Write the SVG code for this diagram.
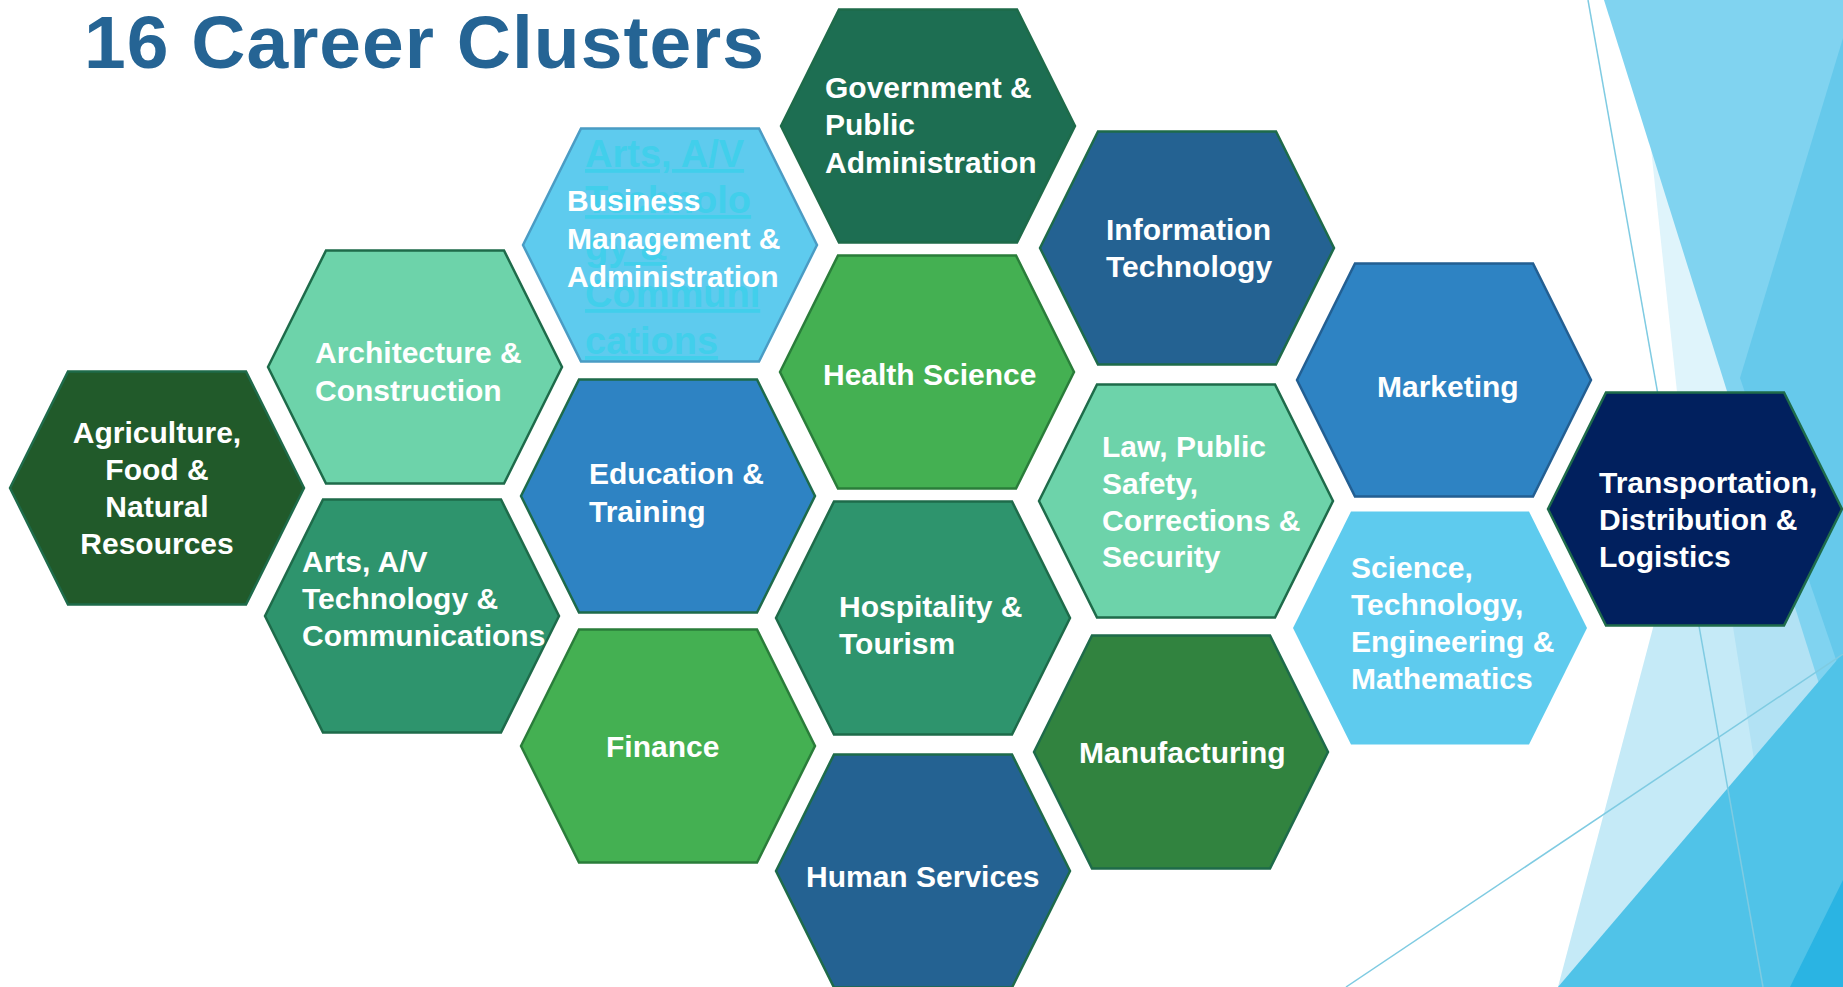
<svg xmlns="http://www.w3.org/2000/svg" xmlns:xlink="http://www.w3.org/1999/xlink" width="1843" height="987" viewBox="0 0 1843 987">
<defs>
<polygon id="hex" points="-147,0 -89,-116.5 89,-116.5 147,0 89,116.5 -89,116.5"/>
<style>
.h{stroke:#1e6b4a;stroke-width:2.5}
.t{font-family:"Liberation Sans",Arial,sans-serif;font-weight:bold;font-size:30px;fill:#ffffff}
.ghost{font-family:"Liberation Sans",Arial,sans-serif;font-weight:bold;font-size:38px;fill:#41cfeb;text-decoration:underline}
.bl{stroke:#7fcbe2;stroke-width:1.5;fill:none}
</style>
</defs>
<rect x="0" y="0" width="1843" height="987" fill="#ffffff"/>
<g id="background">
<polygon points="1745,280 1843,480 1843,987 1558,987" fill="#c5eaf7"/>
<polygon points="1733,627 1843,560 1843,987 1790,987" fill="#b2e2f4"/>
<polygon points="1648,120 1760,420 1680,420" fill="#dff4fb"/>
<polygon points="1604,0 1843,0 1843,760" fill="#80d3f0"/>
<polygon points="1843,38 1740,378 1843,680" fill="#66c9eb"/>
<polygon points="1558,987 1843,653 1843,987" fill="#50c3e8"/>
<polygon points="1843,880 1843,987 1790,987" fill="#2ab4e3"/>
<line class="bl" x1="1588" y1="0" x2="1763" y2="987"/>
<line class="bl" x1="1346" y1="987" x2="1843" y2="654"/>
</g>
<text id="title" x="84" y="68" font-family="Liberation Sans, Arial, sans-serif" font-weight="bold" font-size="75" fill="#256494" textLength="680" lengthAdjust="spacing">16 Career Clusters</text>
<g id="nodes">
<g id="agriculture"><use xlink:href="#hex" x="157" y="488" class="h" fill="#215a2a"/>
<text class="t" text-anchor="middle"><tspan x="157" y="443">Agriculture,</tspan><tspan x="157" y="480">Food &amp;</tspan><tspan x="157" y="517">Natural</tspan><tspan x="157" y="554">Resources</tspan></text></g>
<g id="architecture"><use xlink:href="#hex" x="415" y="367" class="h" fill="#6dd3aa"/>
<text class="t"><tspan x="315" y="363">Architecture &amp;</tspan><tspan x="315" y="401">Construction</tspan></text></g>
<g id="arts"><use xlink:href="#hex" x="412" y="616" class="h" fill="#2e946d"/>
<text class="t"><tspan x="302" y="572">Arts, A/V</tspan><tspan x="302" y="609">Technology &amp;</tspan><tspan x="302" y="646">Communications</tspan></text></g>
<g id="business"><use xlink:href="#hex" x="670" y="245" fill="#5ecbee" stroke="#4a9cc4" stroke-width="2.5"/>
<text class="ghost"><tspan x="585" y="167">Arts, A/V</tspan><tspan x="585" y="213">Technolo</tspan><tspan x="585" y="260">gy &amp;</tspan><tspan x="585" y="307">Communi</tspan><tspan x="585" y="354">cations</tspan></text>
<text class="t"><tspan x="567" y="211">Business</tspan><tspan x="567" y="249">Management &amp;</tspan><tspan x="567" y="287">Administration</tspan></text></g>
<g id="education"><use xlink:href="#hex" x="668" y="496" class="h" fill="#2e83c3"/>
<text class="t"><tspan x="589" y="484">Education &amp;</tspan><tspan x="589" y="522">Training</tspan></text></g>
<g id="finance"><use xlink:href="#hex" x="668" y="746" fill="#44b052" stroke="#2a7d3a" stroke-width="2.5"/>
<text class="t" x="606" y="757">Finance</text></g>
<g id="government"><use xlink:href="#hex" x="928" y="126" class="h" fill="#1d6e52"/>
<text class="t"><tspan x="825" y="98">Government &amp;</tspan><tspan x="825" y="135">Public</tspan><tspan x="825" y="173">Administration</tspan></text></g>
<g id="health"><use xlink:href="#hex" x="927" y="372" fill="#44b052" stroke="#2a7d3a" stroke-width="2.5"/>
<text class="t" x="823" y="385">Health Science</text></g>
<g id="hospitality"><use xlink:href="#hex" x="923" y="618" class="h" fill="#2e946d"/>
<text class="t"><tspan x="839" y="617">Hospitality &amp;</tspan><tspan x="839" y="654">Tourism</tspan></text></g>
<g id="human-services"><use xlink:href="#hex" x="923" y="871" class="h" fill="#246292"/>
<text class="t" x="806" y="887">Human Services</text></g>
<g id="information-technology"><use xlink:href="#hex" x="1187" y="248" class="h" fill="#246292"/>
<text class="t"><tspan x="1106" y="240">Information</tspan><tspan x="1106" y="277">Technology</tspan></text></g>
<g id="law"><use xlink:href="#hex" x="1186" y="501" class="h" fill="#6dd3aa"/>
<text class="t"><tspan x="1102" y="457">Law, Public</tspan><tspan x="1102" y="494">Safety,</tspan><tspan x="1102" y="531">Corrections &amp;</tspan><tspan x="1102" y="567">Security</tspan></text></g>
<g id="manufacturing"><use xlink:href="#hex" x="1181" y="752" class="h" fill="#31833f"/>
<text class="t" x="1079" y="763">Manufacturing</text></g>
<g id="marketing"><use xlink:href="#hex" x="1444" y="380" fill="#2e83c3" stroke="#235f92" stroke-width="2.5"/>
<text class="t" x="1377" y="397">Marketing</text></g>
<g id="stem"><use xlink:href="#hex" x="1440" y="628" fill="#5ecbee"/>
<text class="t"><tspan x="1351" y="578">Science,</tspan><tspan x="1351" y="615">Technology,</tspan><tspan x="1351" y="652">Engineering &amp;</tspan><tspan x="1351" y="689">Mathematics</tspan></text></g>
<g id="transportation"><use xlink:href="#hex" x="1695" y="509" class="h" fill="#01205e"/>
<text class="t"><tspan x="1599" y="493">Transportation,</tspan><tspan x="1599" y="530">Distribution &amp;</tspan><tspan x="1599" y="567">Logistics</tspan></text></g>
</g>
<g id="connectors"/>
</svg>
